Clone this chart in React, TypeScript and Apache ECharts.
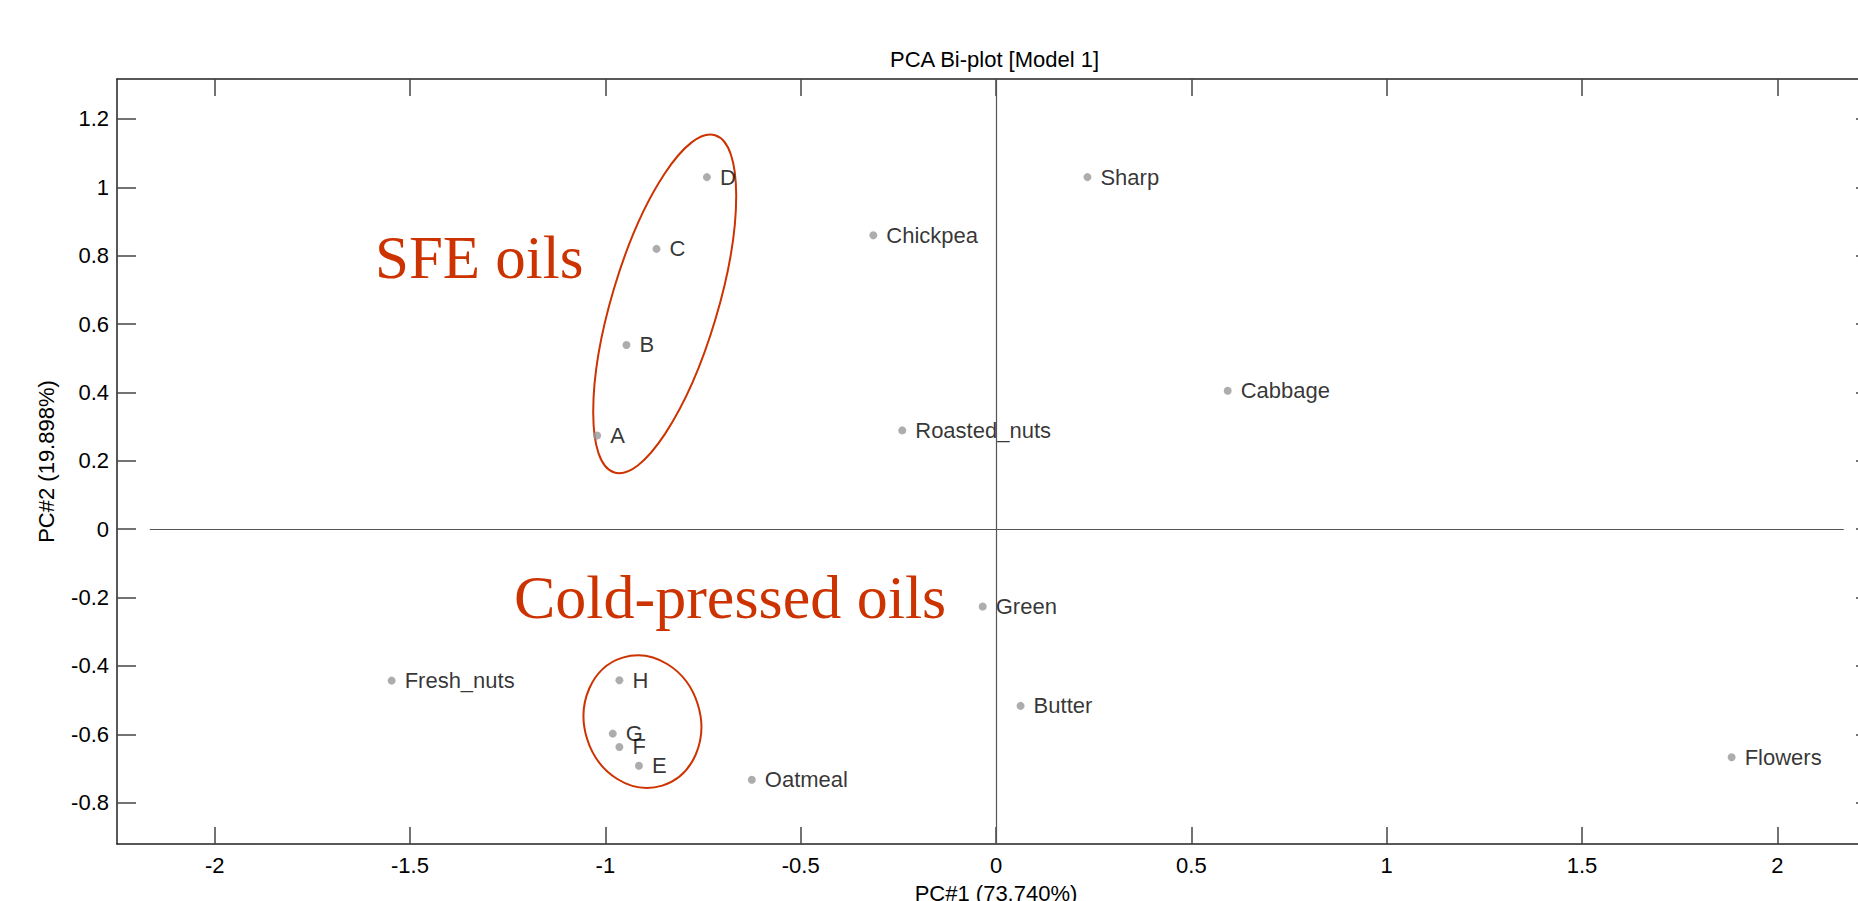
import React, { useEffect, useRef } from 'react';
import * as echarts from 'echarts';

// ---- data ----
const pointNames = ['A', 'B', 'C', 'D', 'E', 'F', 'G', 'H', 'Fresh_nuts', 'Oatmeal', 'Chickpea', 'Roasted_nuts', 'Sharp', 'Cabbage', 'Green', 'Butter', 'Flowers'];
const pc1 = [-1.021, -0.946, -0.869, -0.740, -0.914, -0.964, -0.981, -0.964, -1.547, -0.625, -0.314, -0.240, 0.234, 0.593, -0.034, 0.063, 1.883];
const pc2 = [0.274, 0.539, 0.820, 1.030, -0.692, -0.637, -0.598, -0.442, -0.443, -0.733, 0.860, 0.289, 1.030, 0.405, -0.226, -0.517, -0.667];
const xTicks = [-2, -1.5, -1, -0.5, 0, 0.5, 1, 1.5, 2];
const yTicks = [-0.8, -0.6, -0.4, -0.2, 0, 0.2, 0.4, 0.6, 0.8, 1, 1.2];
const groupNames = ['SFE oils', 'Cold-pressed oils'];
const groupCenterPC1 = [-0.848, -0.905];
const groupCenterPC2 = [0.659, -0.563];

// ---- styles ----
const SANS = '"Liberation Sans", Arial, Helvetica, sans-serif';
const SERIF = '"Liberation Serif", "Times New Roman", serif';
const RED = '#cc3300';
const ellipseStyles = [
  { rx: 53, ry: 176, rotation: -0.29 },
  { rx: 58, ry: 67, rotation: 0.3 },
];
const groupTextStyles = [
  { x: 375, y: 257, size: 61 },
  { x: 514, y: 597, size: 62 },
];

const axisLineStyle = { color: '#222', width: 1.5 };
const tickLineStyle = { color: '#444', width: 1.5 };

export default function App() {
  const ref = useRef<HTMLDivElement>(null);
  useEffect(() => {
    document.body.style.margin = '0';
    const chart = echarts.init(ref.current!, undefined, { renderer: 'svg' });
    const option: any = {
      animation: false,
      backgroundColor: '#ffffff',
      title: {
        text: 'PCA Bi-plot [Model 1]',
        left: 885,
        top: 43,
        textStyle: { fontFamily: SANS, fontSize: 22, fontWeight: 'normal', color: '#000' },
      },
      grid: { left: 117, top: 79, width: 1758, height: 765, containLabel: false, outerBoundsMode: 'none' },
      xAxis: [
        {
          type: 'value', position: 'bottom', min: -2.25, max: 2.25,
          axisLine: { show: true, onZero: false, lineStyle: axisLineStyle },
          axisTick: { show: true, inside: true, length: 17, customValues: xTicks, lineStyle: tickLineStyle },
          axisLabel: { show: true, customValues: xTicks, fontSize: 22, fontFamily: SANS, color: '#000', margin: 10 },
          splitLine: { show: false },
          name: 'PC#1 (73.740%)', nameLocation: 'middle', nameGap: 38,
          nameTextStyle: { fontSize: 22, fontFamily: SANS, color: '#000' },
        },
        {
          type: 'value', position: 'top', min: -2.25, max: 2.25,
          axisLine: { show: true, onZero: false, lineStyle: axisLineStyle },
          axisTick: { show: true, inside: true, length: 17, customValues: xTicks, lineStyle: tickLineStyle },
          axisLabel: { show: false },
          splitLine: { show: false },
        },
      ],
      yAxis: [
        {
          type: 'value', position: 'left', min: -0.921, max: 1.317,
          axisLine: { show: true, onZero: false, lineStyle: axisLineStyle },
          axisTick: { show: true, inside: true, length: 19, customValues: yTicks, lineStyle: tickLineStyle },
          axisLabel: { show: true, customValues: yTicks, fontSize: 22, fontFamily: SANS, color: '#000', margin: 8 },
          splitLine: { show: false },
          name: 'PC#2 (19.898%)', nameLocation: 'middle', nameGap: 60, nameRotate: 90,
          nameTextStyle: { fontSize: 22, fontFamily: SANS, color: '#000' },
        },
        {
          type: 'value', position: 'right', min: -0.921, max: 1.317,
          axisLine: { show: true, onZero: false, lineStyle: axisLineStyle },
          axisTick: { show: true, inside: true, length: 19, customValues: yTicks, lineStyle: tickLineStyle },
          axisLabel: { show: false },
          splitLine: { show: false },
        },
      ],
      series: [
        {
          type: 'scatter',
          xAxisIndex: 0, yAxisIndex: 0,
          symbol: 'circle', symbolSize: 8,
          itemStyle: { color: '#999999' },
          label: { show: true, position: 'right', distance: 9, formatter: '{b}', fontSize: 22, fontFamily: SANS, color: '#000' },
          emphasis: { disabled: true },
          data: pointNames.map((n, i) => ({ name: n, value: [pc1[i], pc2[i]] })),
          markLine: {
            silent: true, symbol: ['none', 'none'], label: { show: false },
            lineStyle: { color: '#555', width: 1.2, type: 'solid' },
            emphasis: { disabled: true },
            data: [
              { xAxis: 0 },
              [{ coord: [-2.166, 0] }, { coord: [2.17, 0] }],
            ],
          },
          z: 3,
        },
        {
          type: 'custom',
          xAxisIndex: 0, yAxisIndex: 0,
          silent: true,
          data: groupCenterPC1.map((x, i) => [x, groupCenterPC2[i]]),
          renderItem: (params: any, api: any) => {
            const c = api.coord([api.value(0), api.value(1)]);
            const s = ellipseStyles[params.dataIndex];
            return {
              type: 'ellipse',
              x: c[0], y: c[1], rotation: s.rotation,
              shape: { cx: 0, cy: 0, rx: s.rx, ry: s.ry },
              style: { fill: 'none', stroke: RED, lineWidth: 2 },
            };
          },
          z: 2,
        },
      ],
      graphic: groupNames.map((t, i) => ({
        type: 'text',
        x: groupTextStyles[i].x,
        y: groupTextStyles[i].y,
        silent: true,
        style: {
          text: t,
          font: `${groupTextStyles[i].size}px ${SERIF}`,
          fill: RED,
          textAlign: 'left',
          textVerticalAlign: 'middle',
        },
      })),
    };
    chart.setOption(option);
    return () => chart.dispose();
  }, []);
  return <div ref={ref} style={{ width: 1858, height: 901 }} />;
}
